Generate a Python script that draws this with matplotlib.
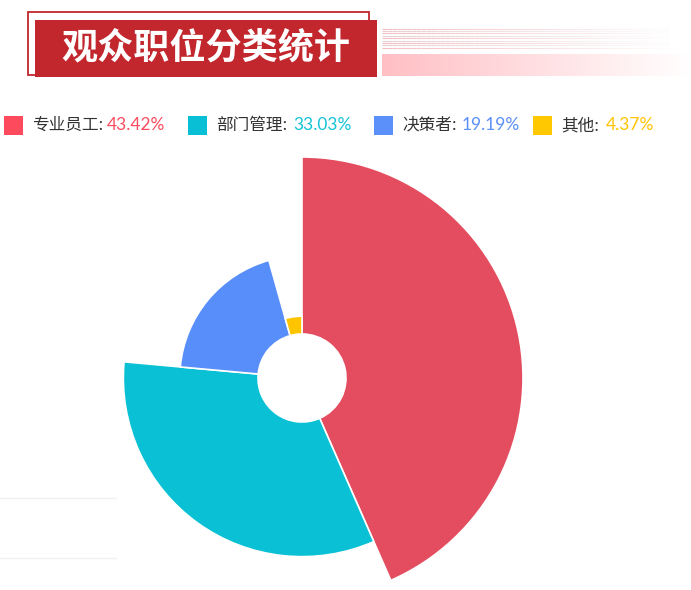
import numpy as np
import matplotlib
matplotlib.use("Agg")
import matplotlib.pyplot as plt
from matplotlib.patches import Wedge, Rectangle

plt.rcParams['font.family'] = ['Noto Sans CJK SC', 'DejaVu Sans']

# data
categories = ["专业员工", "部门管理", "决策者", "其他"]
shares = [43.42, 33.03, 19.19, 4.37]
pct_labels = ["43.42%", "33.03%", "19.19%", "4.37%"]
slice_colors = ["#e44d5f", "#09c0d5", "#588ef9", "#ffc400"]
legend_colors = ["#fe4a5d", "#08bfd6", "#5b8ff9", "#ffc800"]
pct_colors = ["#f94c5e", "#14c3d8", "#5b8ff9", "#ffc300"]
title = "观众职位分类统计"

W, H = 691, 590
fig = plt.figure(figsize=(W / 100, H / 100), dpi=100)
ax = fig.add_axes([0, 0, 1, 1])
ax.set_xlim(0, W)
ax.set_ylim(H, 0)
ax.axis("off")

red = "#c1272d"

# title block
ax.add_patch(Rectangle((28, 12), 341, 63, fill=False, edgecolor=red, lw=1.3))
ax.add_patch(Rectangle((35, 20), 342, 57, facecolor=red, edgecolor="none"))
ax.text(206, 48, title, color="white", fontsize=26, fontweight="bold",
        ha="center", va="center")

# striped lines fading to the right
xs = np.linspace(382, 669, 60)
for i in range(9):
    y = 28.5 + i * 2.4
    c = "#f3bcc2" if i % 2 == 0 else "#e6cfd2"
    for j in range(len(xs) - 1):
        a = 1 - j / (len(xs) - 1)
        ax.plot(xs[j:j + 2], [y, y], color=c, lw=0.8, alpha=max(a, 0.05),
                solid_capstyle="butt")

# gradient bar
grad = np.ones((1, 256, 4))
grad[..., 1] = 0.75
grad[..., 2] = 0.77
grad[..., 3] = np.linspace(1, 0, 256)
ax.imshow(grad, extent=(382, 691, 76, 54), aspect="auto", zorder=1)

# legend
sq_x = [4, 188, 374, 533]
pct_x = [107, 293, 462, 606]
for k in range(4):
    ax.add_patch(Rectangle((sq_x[k], 116), 19, 19, facecolor=legend_colors[k],
                           edgecolor="none"))
    ax.text(sq_x[k] + 28, 125.5, categories[k] + ":", color="#333333",
            fontsize=12, ha="left", va="center")
    ax.text(pct_x[k], 125.5, pct_labels[k], color=pct_colors[k], fontsize=12.5,
            ha="left", va="center", family=["Lato", "DejaVu Sans"])

# faint table lines bottom-left
ax.plot([0, 116], [498, 498], color="#f2f2f2", lw=1)
ax.plot([0, 116], [558, 558], color="#f2f2f2", lw=1)

# rose chart (radius mode)
cx, cy = 302, 378
r0, rmax = 44, 221
total = sum(shares)
vmax = max(shares)
start = -90.0
for v, c in zip(shares, slice_colors):
    sweep = v / total * 360
    r = r0 + (rmax - r0) * v / vmax
    ax.add_patch(Wedge((cx, cy), r, start, start + sweep, width=r - r0,
                       facecolor=c, edgecolor="white", lw=1.2, zorder=3))
    start += sweep

fig.savefig("out.png", dpi=100)
